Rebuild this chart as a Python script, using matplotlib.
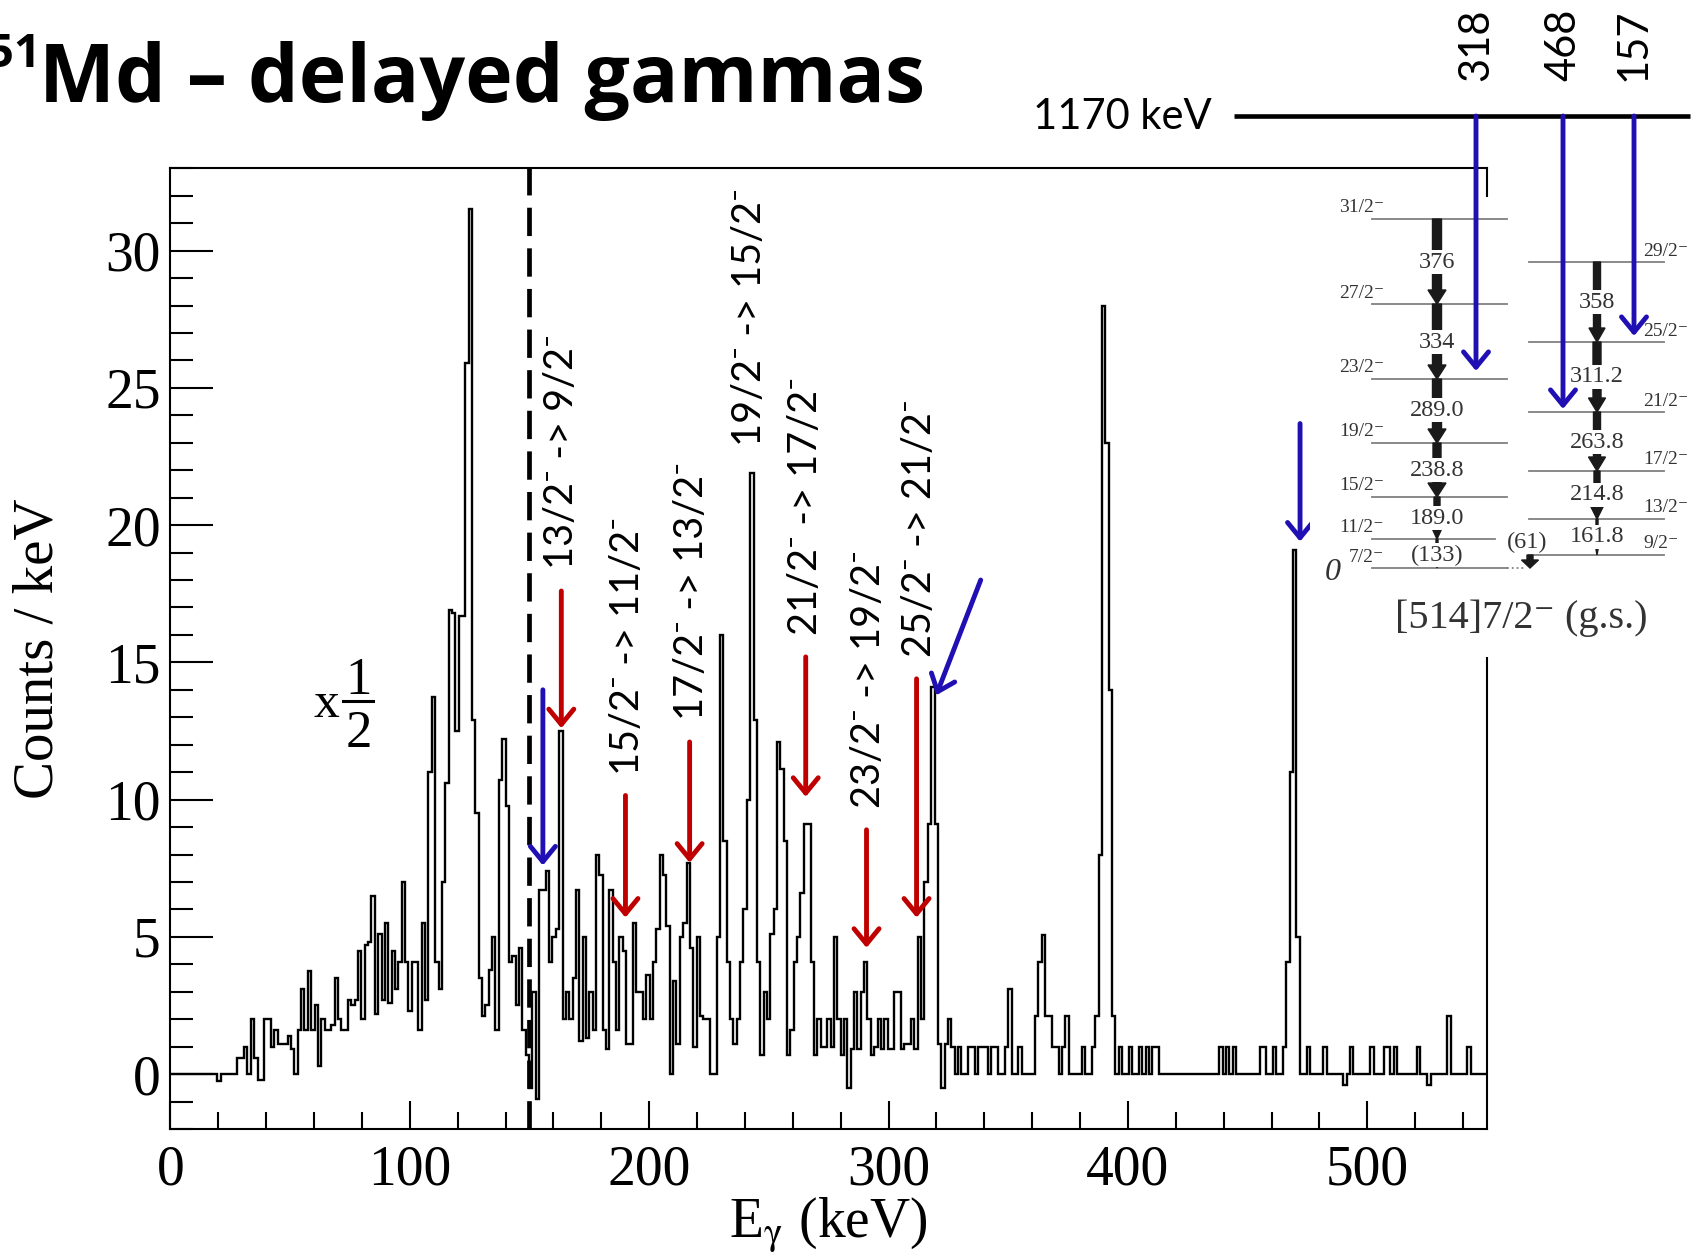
import numpy as np
import matplotlib
matplotlib.use("Agg")
import matplotlib.pyplot as plt
from matplotlib.ticker import MultipleLocator
from matplotlib.patches import FancyArrowPatch, FancyArrow, Rectangle

plt.rcParams['font.family'] = ['Liberation Serif', 'DejaVu Serif']
plt.rcParams['mathtext.fontset'] = 'stix'

# ---------------- data ----------------
BIN_WIDTH = 1.4  # keV per channel
counts = [
    0, 0, 0, 0, 0, 0, 0, 0, 0, 0,
    0, 0, 0, 0, -0.25, 0, 0, 0, 0, 0,
    0.6, 0.6, 1.0, 0, 2.0, 0.6, -0.2, -0.2, 2.0, 2.0,
    1.0, 1.6, 1.1, 1.1, 1.1, 1.4, 0.9, 0, 1.6, 3.1,
    1.6, 3.75, 1.6, 2.5, 0.3, 2.0, 1.6, 1.6, 1.8, 3.5,
    2.0, 1.6, 1.6, 2.7, 2.5, 2.7, 4.5, 2.0, 4.7, 4.8,
    6.5, 2.2, 5.1, 2.7, 5.5, 2.6, 4.5, 3.1, 4.1, 7.0,
    4.1, 2.3, 4.1, 4.1, 1.6, 5.5, 2.7, 11.0, 13.75, 4.1,
    3.1, 7.0, 10.6, 16.9, 16.8, 12.5, 16.7, 16.7, 25.9, 31.5,
    12.9, 9.5, 3.5, 2.1, 2.5, 3.8, 5.0, 1.6, 10.7, 12.2,
    9.75, 4.1, 4.3, 2.5, 4.6, 1.6, 0.7, -0.5, 3.0, -0.9,
    6.7, 6.7, 7.4, 4.1, 5.0, 5.3, 12.5, 2.0, 3.0, 2.0,
    3.5, 6.7, 1.2, 5.0, 1.3, 3.0, 1.6, 8.0, 7.25, 1.6,
    0.9, 6.7, 4.1, 1.6, 5.0, 4.5, 1.1, 1.1, 5.5, 3.0,
    3.0, 2.0, 3.6, 2.0, 4.1, 5.3, 8.0, 7.25, 5.4, 0,
    3.4, 1.1, 5.0, 5.5, 7.7, 4.6, 1.0, 5.0, 2.1, 2.0,
    2.0, 0, 0, 5.0, 16.0, 8.5, 4.1, 2.0, 1.1, 2.0,
    4.1, 6.0, 10.0, 21.9, 12.9, 4.1, 0.7, 3.0, 2.0, 5.1,
    6.0, 12.1, 11.1, 8.5, 0.7, 1.6, 4.1, 5.0, 6.6, 9.1,
    9.1, 4.1, 0.7, 2.0, 1.0, 1.0, 2.0, 1.0, 5.0, 2.0,
    0.7, 2.0, -0.5, 0.9, 3.0, 0.9, 3.0, 4.1, 2.0, 0.7,
    1.0, 2.0, 0.9, 2.0, 0.9, 0.9, 3.0, 3.0, 0.9, 1.1,
    1.1, 2.0, 0.9, 5.0, 2.0, 7.0, 9.1, 14.1, 9.1, 1.1,
    -0.5, 1.1, 2.0, 1.0, 0, 1.0, 0, 0, 1.0, 1.0,
    0, 1.0, 1.0, 1.0, 0, 1.0, 1.0, 0, 0, 1.0,
    3.1, 0, 0, 1.0, 0, 0, 0, 0, 2.1, 4.1,
    5.05, 2.1, 2.1, 1.0, 1.0, 0, 1.0, 2.1, 0, 0,
    0, 0, 1.0, 0, 0, 1.0, 2.1, 8.0, 28.0, 23.0,
    14.0, 2.1, 0, 1.0, 0, 0, 1.0, 0, 0, 1.0,
    0, 1.0, 0, 1.0, 1.0, 0, 0, 0, 0, 0,
    0, 0, 0, 0, 0, 0, 0, 0, 0, 0,
    0, 0, 0, 1.0, 0, 1.0, 0, 1.0, 0, 0,
    0, 0, 0, 0, 0, 1.0, 1.0, 0, 0, 1.0,
    0, 0, 1.0, 4.1, 11.0, 19.1, 5.0, 0, 0, 1.0,
    0, 0, 0, 0, 1.0, 0, 0, 0, 0, 0,
    -0.4, 0, 1.0, 0, 0, 0, 0, 0, 1.0, 0,
    0, 0, 1.0, 1.0, 0, 1.0, 0, 0, 0, 0,
    0, 0, 1.0, 0, 0, -0.4, 0, 0, 0, 0,
    0, 2.1, 0, 0, 0, 0, 0, 1.0, 0, 0,
    0, 0, 0,
]

xtick_values = [0, 100, 200, 300, 400, 500]
ytick_values = [0, 5, 10, 15, 20, 25, 30]

trans_labels = ["13/2⁻ -> 9/2⁻", "15/2⁻ -> 11/2⁻", "17/2⁻ -> 13/2⁻",
                "19/2⁻ -> 15/2⁻", "21/2⁻ -> 17/2⁻", "23/2⁻ -> 19/2⁻",
                "25/2⁻ -> 21/2⁻"]
trans_label_x = [163.3, 191.0, 217.5, 241.8, 265.4, 291.5, 313.0]
trans_label_y = [18.4, 10.9, 12.9, 22.9, 16.0, 9.7, 15.2]

red_arrow_x = [163.3, 190.1, 216.9, 265.4, 290.8, 311.7]
red_arrow_top = [17.6, 10.15, 12.1, 15.2, 8.9, 14.4]
red_arrow_tip = [12.6, 5.7, 7.7, 10.1, 4.6, 5.7]

blue_from = [(155.6, 14.0), (338.5, 18.0), (471.9, 23.7)]
blue_to = [(155.6, 7.6), (319.9, 13.8), (471.9, 19.4)]

isomer_gammas = ["318", "468", "157"]

# level scheme (band of [514]7/2-)
left_spins = ["31/2⁻", "27/2⁻", "23/2⁻", "19/2⁻", "15/2⁻", "11/2⁻", "7/2⁻"]
left_trans = ["376", "334", "289.0", "238.8", "189.0", "(133)"]
right_spins = ["29/2⁻", "25/2⁻", "21/2⁻", "17/2⁻", "13/2⁻", "9/2⁻"]
right_trans = ["358", "311.2", "263.8", "214.8", "161.8"]

RED = '#c00000'
BLUE = '#2010b4'

# ---------------- figure ----------------
W, H = 1702, 1257
fig = plt.figure(figsize=(W / 100, H / 100), dpi=100)
L, R, T, B = 170.4, 1487.0, 168.3, 1129.0
ax = fig.add_axes([L / W, 1 - B / H, (R - L) / W, (B - T) / H])

edges = np.arange(len(counts) + 1) * BIN_WIDTH
ax.stairs(counts, edges, color='black', linewidth=1.7, baseline=None)

ax.set_xlim(0, 550)
ax.set_ylim(-2, 33)
ax.set_xticks(xtick_values)
ax.set_yticks(ytick_values)
ax.xaxis.set_minor_locator(MultipleLocator(20))
ax.yaxis.set_minor_locator(MultipleLocator(1))
ax.tick_params(axis='y', which='major', direction='in', length=31, width=1.5,
               labelsize=40, pad=7, right=False)
ax.tick_params(axis='y', which='minor', direction='in', length=16.5, width=1.5, right=False)
ax.tick_params(axis='x', which='major', direction='in', length=20, width=1.5,
               labelsize=40, pad=11, top=False)
ax.tick_params(axis='x', which='minor', direction='in', length=12, width=1.5, top=False)
for s in ax.spines.values():
    s.set_linewidth(1.5)

ax.set_ylabel("Counts / keV", fontsize=41, va='center')
ax.yaxis.set_label_coords(-0.100, 0.5)
ax.set_xlabel(r"E$_{\mathrm{\gamma}}$ (keV)", fontsize=40, va='center')
ax.xaxis.set_label_coords(0.5, -0.100)

ax.axvline(150, color='black', linewidth=3.4, linestyle=(0, (6, 2.6)))

# red arrows and transition labels
for x, y0, y1 in zip(red_arrow_x, red_arrow_top, red_arrow_tip):
    ax.add_patch(FancyArrowPatch((x, y0), (x, y1), arrowstyle='->,head_length=0.55,head_width=0.45',
                                 mutation_scale=20, color=RED, linewidth=3.5,
                                 shrinkA=0, shrinkB=0, zorder=4))
for x, y, lab in zip(trans_label_x, trans_label_y, trans_labels):
    ax.text(x, y, lab, rotation=90, ha='center', va='bottom', fontsize=28.5,
            family=['Lato', 'DejaVu Sans'], zorder=4)
for p0, p1 in zip(blue_from, blue_to):
    ax.add_patch(FancyArrowPatch(p0, p1, arrowstyle='->,head_length=0.55,head_width=0.45',
                                 mutation_scale=20, color=BLUE, linewidth=3.5,
                                 shrinkA=0, shrinkB=0, zorder=4))

# x 1/2 scaling note
ax.text(65.0, 13.0, "x", fontsize=37, ha='center', va='baseline')
ax.text(78.6, 13.85, "1", fontsize=38, ha='center', va='baseline')
ax.text(78.6, 11.9, "2", fontsize=38, ha='center', va='baseline')
ax.plot([72.3, 84.8], [13.6, 13.6], color='black', linewidth=2.2)

# ---------------- overlay in pixel coordinates ----------------
ov = fig.add_axes([0, 0, 1, 1], zorder=5)
ov.set_xlim(0, W)
ov.set_ylim(H, 0)
ov.axis('off')

# title
ov.text(41, 67, "251", fontsize=34, fontweight='bold', family=['Open Sans', 'DejaVu Sans'],
        ha='right', va='baseline')
ov.text(39, 102, "Md – delayed gammas", fontsize=58, fontweight='bold',
        family=['Open Sans', 'DejaVu Sans'], ha='left', va='baseline')

# white background of the level scheme
ov.add_patch(Rectangle((1310, 197), 400, 460, facecolor='white', edgecolor='none', zorder=1))

# isomer line
ov.text(1212, 117, "1170 keV", fontsize=30, family=['Lato', 'DejaVu Sans'],
        ha='right', va='center')
ov.plot([1234, 1690], [116, 116], color='black', linewidth=3.3, solid_capstyle='butt', zorder=3)
iso_x = [1476, 1563, 1634]
iso_tip = [371, 409, 336]
for x, tip, lab in zip(iso_x, iso_tip, isomer_gammas):
    ov.text(x, 81, lab, rotation=90, ha='center', va='bottom', fontsize=30,
            family=['Lato', 'DejaVu Sans'])
    ov.add_patch(FancyArrowPatch((x, 116), (x, tip), arrowstyle='->,head_length=0.55,head_width=0.45',
                                 mutation_scale=20, color=BLUE, linewidth=3.5,
                                 shrinkA=0, shrinkB=0, zorder=6))

# level scheme geometry (pixels)
left_y = [219, 304, 379, 443, 497, 539, 568]
right_y = [262, 342, 412, 471, 519, 555]
LX0, LX1 = 1372, 1507
RX0, RX1 = 1529, 1664
LCX, RCX = 1437, 1597
GREY = '#808080'
TXT = '#333333'
for i, (y, s) in enumerate(zip(left_y, left_spins)):
    x1 = 1495 if s.startswith("11/2") else LX1
    ov.plot([LX0, x1], [y, y], color=GREY, linewidth=1.3, zorder=2)
    ov.text(LX0 + 12, y - 11, s, fontsize=14, color=TXT, ha='right', va='center', zorder=3)
ov.plot([LX1, 1525], [568, 568], color=GREY, linewidth=1.3, linestyle=':', zorder=2)
for y, s in zip(right_y, right_spins):
    ov.plot([RX0, RX1], [y, y], color=GREY, linewidth=1.3, zorder=2)
    ov.text(1643, y - 11, s, fontsize=14, color=TXT, ha='left', va='center', zorder=3)

left_w = [9, 9, 9, 8, 6, 2]
left_hw = [18, 18, 18, 18, 13, 5]
left_lab_y = [262, 342, 410, 470, 518, 555]
for i, lab in enumerate(left_trans):
    y0, y1 = left_y[i], left_y[i + 1]
    ov.add_patch(FancyArrow(LCX, y0, 0, y1 - y0, width=left_w[i], head_width=left_hw[i],
                            head_length=min(14, 0.45 * (y1 - y0)), length_includes_head=True,
                            color='#1a1a1a', zorder=3))
    ov.text(LCX, left_lab_y[i], lab, fontsize=17.5, color=TXT, ha='center', va='center', zorder=4,
            bbox=dict(facecolor='white', edgecolor='none', pad=1))
right_w = [7, 8, 7, 6, 2]
right_hw = [16, 17, 17, 14, 5]
right_lab_y = [302, 377, 442, 495, 537]
for i, lab in enumerate(right_trans):
    y0, y1 = right_y[i], right_y[i + 1]
    ov.add_patch(FancyArrow(RCX, y0, 0, y1 - y0, width=right_w[i], head_width=right_hw[i],
                            head_length=min(14, 0.45 * (y1 - y0)), length_includes_head=True,
                            color='#1a1a1a', zorder=3))
    ov.text(RCX, right_lab_y[i], lab, fontsize=17.5, color=TXT, ha='center', va='center', zorder=4,
            bbox=dict(facecolor='white', edgecolor='none', pad=1))
# (61) link between the bands
ov.add_patch(FancyArrow(1530, 555, 0, 13, width=6, head_width=17, head_length=8,
                        length_includes_head=True, color='#1a1a1a', zorder=3))
ov.text(1527, 542, "(61)", fontsize=17.5, color=TXT, ha='center', va='center', zorder=4,
        bbox=dict(facecolor='white', edgecolor='none', pad=1))
ov.text(1333, 572, "0", fontsize=23, style='italic', color=TXT, ha='center', va='center')
ov.text(1521, 618, "[514]7/2⁻ (g.s.)", fontsize=29, color=TXT, ha='center', va='center')

fig.savefig("out.png", dpi=100)
